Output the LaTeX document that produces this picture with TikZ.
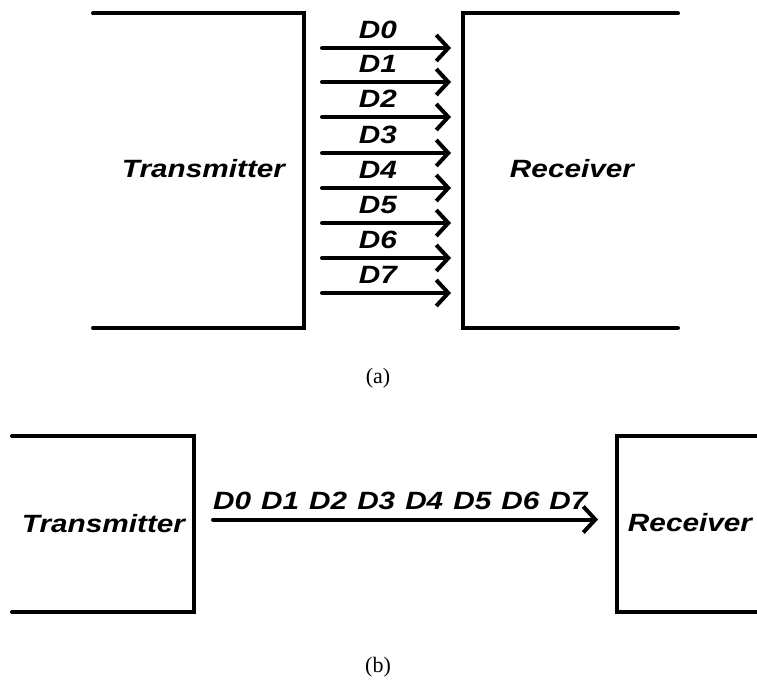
\documentclass[tikz,border=0pt]{standalone}
\usepackage{fontspec}
\setmainfont{Liberation Serif}
\newfontfamily\lab[FakeStretch=1.19]{Liberation Sans}
\usetikzlibrary{arrows.meta}
\newcommand{\dgap}{\hspace{10pt}}
\begin{document}
\begin{tikzpicture}[x=1pt,y=-1pt,
  wire/.style={line width=4pt, line cap=round, line join=miter},
  sig/.style={wire, -{Straight Barb[length=12pt,width=26pt,line join=miter]}},
  lbl/.style={font=\lab\bfseries\itshape\fontsize{25}{25}\selectfont, inner sep=0pt, anchor=base},
  capt/.style={font=\fontsize{22}{22}\selectfont, inner sep=0pt}]
\useasboundingbox (0,0) rectangle (757,685);
% ---- (a) parallel ----
\draw[wire] (93,13.5) -- (304,13.5) -- (304,328) -- (93,328);
\draw[wire] (678,13.5) -- (463,13.5) -- (463,328) -- (678,328);
\node[lbl] (txa) at (203.5,177) {Transmitter};
\node[lbl] (rxa) at (572,177) {Receiver};
\foreach \i/\y in {0/48,1/82,2/117,3/153,4/188,5/223,6/258,7/293}{
  \coordinate (s\i) at (322,\y);
  \coordinate (e\i) at (451,\y);
  \draw[sig] (s\i) -- (e\i);
  \node[lbl] (d\i) at (378,\y-10) {D\i};
}
\node[capt] (ca) at (378,378) {(a)};
% ---- (b) serial ----
\draw[wire] (12,436) -- (194,436) -- (194,612) -- (12,612);
\draw[wire] (760,436) -- (617,436) -- (617,612) -- (760,612);
\node[lbl] (txb) at (103.5,532) {Transmitter};
\node[lbl] (rxb) at (690,531) {Receiver};
\coordinate (sb) at (213,519.5);
\coordinate (eb) at (598,519.5);
\draw[sig] (sb) -- (eb);
\node[lbl, anchor=base west] (db) at (213,509) {D0\dgap D1\dgap D2\dgap D3\dgap D4\dgap D5\dgap D6\dgap D7};
\node[capt] (cb) at (378,667) {(b)};
\end{tikzpicture}
\end{document}
